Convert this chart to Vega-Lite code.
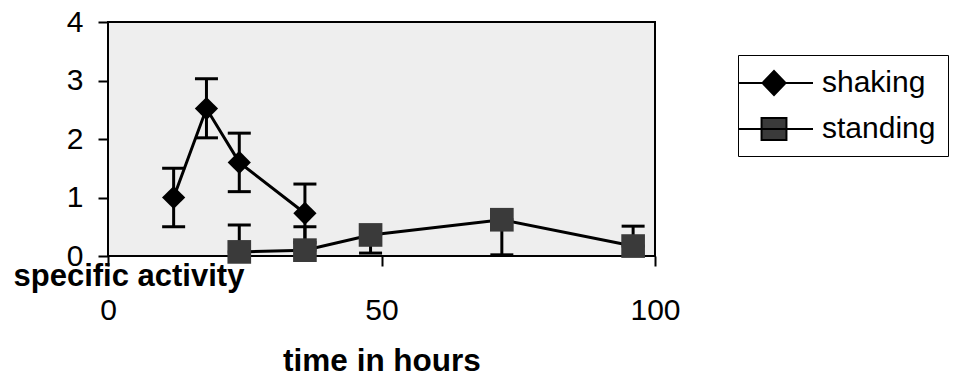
{
  "$schema": "https://vega.github.io/schema/vega-lite/v6.json",
  "width": 547,
  "height": 234,
  "autosize": {"type": "none"},
  "padding": {"left": 108, "top": 22, "right": 301, "bottom": 127},
  "background": "white",
  "config": {
    "view": {"fill": "#eeeeee", "stroke": "black", "strokeWidth": 2},
    "font": "Liberation Sans"
  },
  "data": {
    "values": [
      {"series": "shaking", "time": 12, "value": 1.0, "lo": 0.5, "hi": 1.5},
      {"series": "shaking", "time": 18, "value": 2.52, "lo": 2.02, "hi": 3.03},
      {"series": "shaking", "time": 24, "value": 1.6, "lo": 1.1, "hi": 2.1},
      {"series": "shaking", "time": 36, "value": 0.73, "lo": 0.23, "hi": 1.23},
      {"series": "standing", "time": 24, "value": 0.07, "lo": 0.07, "hi": 0.53},
      {"series": "standing", "time": 36, "value": 0.1, "lo": 0.1, "hi": 0.5},
      {"series": "standing", "time": 48, "value": 0.36, "lo": 0.05, "hi": 0.36},
      {"series": "standing", "time": 72, "value": 0.62, "lo": 0.02, "hi": 0.62},
      {"series": "standing", "time": 96, "value": 0.17, "lo": 0.17, "hi": 0.51}
    ]
  },
  "encoding": {
    "x": {
      "field": "time", "type": "quantitative",
      "scale": {"domain": [0, 100], "nice": false, "zero": false},
      "axis": {
        "values": [0, 50, 100], "grid": false, "domain": false,
        "tickSize": 10, "tickWidth": 2, "tickColor": "black",
        "labelFontSize": 30, "labelColor": "black", "labelPadding": 29,
        "labelBaseline": "top", "labelFlush": false,
        "title": "time in hours", "titleFontSize": 31.5, "titleFontWeight": "bold",
        "titleColor": "black", "titleX": 273.5, "titleY": 114,
        "titleBaseline": "alphabetic", "titleAlign": "center", "titleAnchor": null
      }
    },
    "y": {
      "field": "value", "type": "quantitative",
      "scale": {"domain": [0, 4], "nice": false},
      "axis": {
        "values": [0, 1, 2, 3, 4], "grid": false, "domain": false,
        "tickSize": 10, "tickWidth": 2, "tickColor": "black",
        "labelFontSize": 30, "labelColor": "black", "labelPadding": 15,
        "labelFlush": false,
        "title": "specific activity", "titleFontSize": 31, "titleFontWeight": "bold",
        "titleColor": "black", "titleAngle": 0, "titleX": -95, "titleY": 263,
        "titleBaseline": "alphabetic", "titleAlign": "left", "titleAnchor": null
      }
    }
  },
  "layer": [
    {
      "mark": {"type": "rule", "color": "black", "strokeWidth": 3},
      "encoding": {"y": {"field": "lo", "type": "quantitative"}, "y2": {"field": "hi"}}
    },
    {
      "mark": {"type": "tick", "orient": "horizontal", "color": "black", "size": 23, "thickness": 3, "opacity": 1},
      "encoding": {"y": {"field": "hi", "type": "quantitative"}}
    },
    {
      "mark": {"type": "tick", "orient": "horizontal", "color": "black", "size": 23, "thickness": 3, "opacity": 1},
      "encoding": {"y": {"field": "lo", "type": "quantitative"}}
    },
    {
      "mark": {"type": "line", "strokeWidth": 3},
      "encoding": {
        "color": {
          "field": "series", "type": "nominal",
          "scale": {"domain": ["shaking", "standing"], "range": ["black", "black"]},
          "legend": {
            "orient": "none", "legendX": 630, "legendY": 33,
            "title": null, "padding": 12, "symbolSize": 900,
            "symbolOffset": 8, "labelOffset": 32, "labelFontSize": 30,
            "labelColor": "black", "rowPadding": 14, "strokeColor": "black",
            "fillColor": "white",
            "encode": {
              "symbols": {
                "update": {
                  "shape": {"signal": "datum.value === 'shaking' ? 'M-2.33,0H2.6M0,-0.8L0.77,0L0,0.8L-0.77,0Z' : 'M-2.33,0H2.6M-0.83,-0.73H0.83V0.73H-0.83Z'"},
                  "fill": {"signal": "datum.value === 'shaking' ? 'black' : '#3a3a3a'"},
                  "stroke": {"value": "black"},
                  "strokeWidth": {"value": 2},
                  "opacity": {"value": 1}
                }
              }
            }
          }
        }
      }
    },
    {
      "transform": [{"filter": "datum.series === 'shaking'"}],
      "mark": {"type": "point", "shape": "diamond", "filled": true, "color": "black", "opacity": 1, "size": 540}
    },
    {
      "transform": [{"filter": "datum.series === 'standing'"}],
      "mark": {"type": "point", "shape": "square", "filled": true, "color": "#3a3a3a", "opacity": 1, "size": 560}
    }
  ]
}
